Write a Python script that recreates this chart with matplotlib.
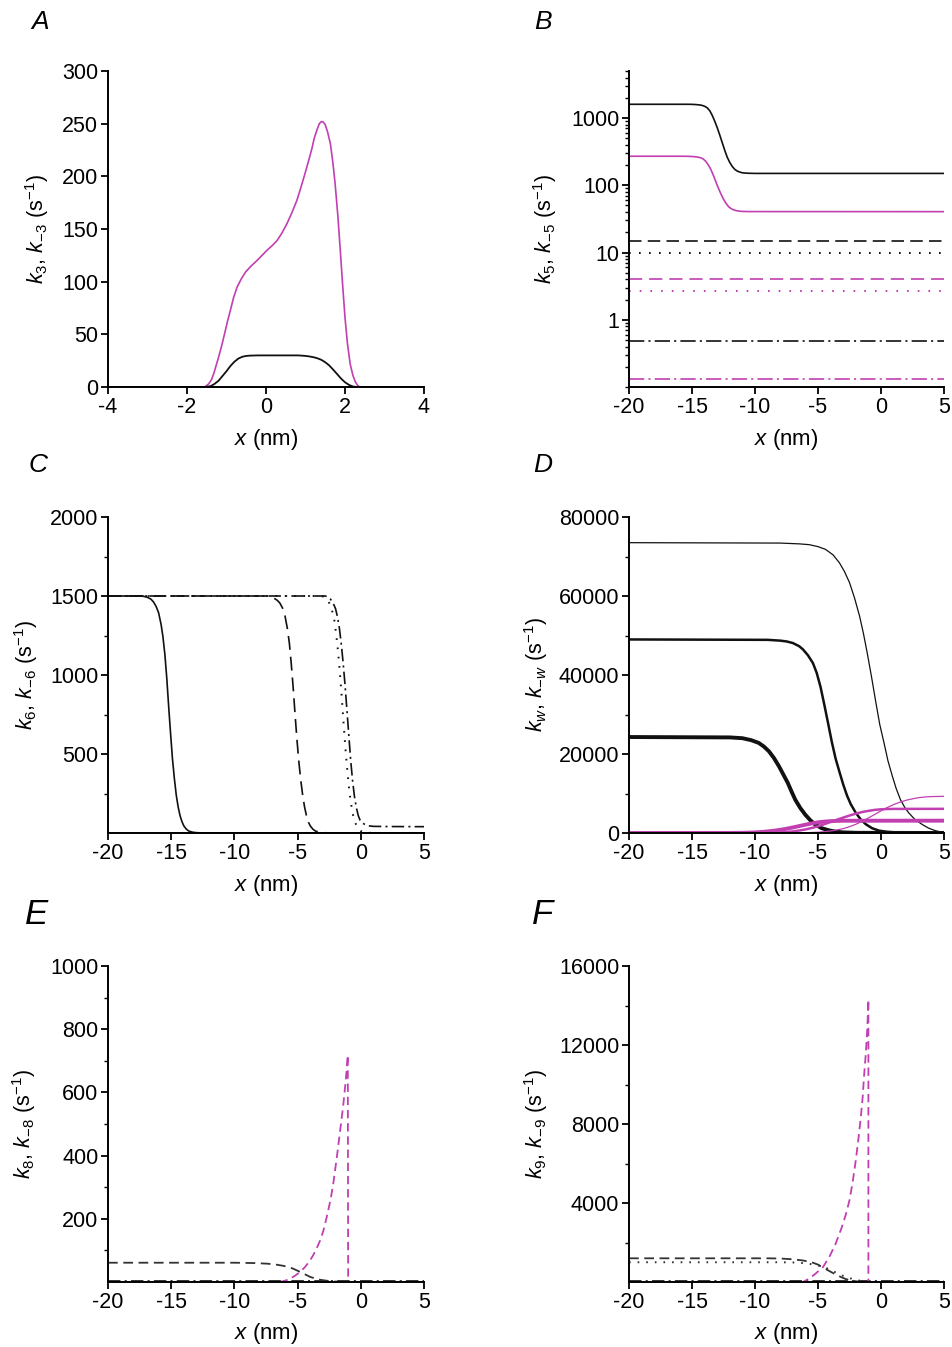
import numpy as np
import matplotlib.pyplot as plt
from matplotlib.ticker import FixedLocator, NullFormatter, LogLocator

plt.rcParams["font.family"] = ["Liberation Sans", "DejaVu Sans"]
plt.rcParams["mathtext.fontset"] = "custom"
plt.rcParams["mathtext.rm"] = "Liberation Sans"
plt.rcParams["mathtext.it"] = "Liberation Sans:italic"
plt.rcParams["axes.unicode_minus"] = False
plt.rcParams["lines.scale_dashes"] = False
plt.rcParams["lines.solid_joinstyle"] = "round"

MAG = "#c13fb1"
BLK = "#111111"

# ---- panel A: k3 (magenta), k-3 (black)
a_mag_x = [-4, -1.55, -1.45, -1.38, -1.32, -1.25, -1.18, -1.11, -1.04, -0.97, -0.90, -0.82,
           -0.73, -0.62, -0.52, -0.40, -0.23, -0.10, 0.03, 0.15, 0.28, 0.40, 0.53, 0.65,
           0.78, 0.88, 0.99, 1.08, 1.16, 1.22, 1.29, 1.35, 1.40, 1.45, 1.50, 1.56, 1.63,
           1.69, 1.75, 1.82, 1.88, 1.94, 2.00, 2.06, 2.13, 2.20, 2.26, 2.32, 2.38, 4]
a_mag_y = [0, 0, 3, 7, 13, 22, 31, 41, 52, 63, 73, 85,
           95, 103, 109, 114, 120, 125, 130, 134, 139, 146, 155, 165,
           177, 189, 203, 215, 226, 236, 244, 250, 252, 251.5, 249, 242, 231,
           214, 193, 162, 130, 97, 66, 42, 22, 11, 5, 1.5, 0, 0]
a_blk_x = [-4, -1.6, -1.5, -1.4, -1.3, -1.2, -1.1, -1.0, -0.9, -0.8, -0.7, -0.6, -0.5, -0.4,
           -0.2, 0.8, 0.9, 1.0, 1.1, 1.2, 1.3, 1.4, 1.5, 1.6, 1.7, 1.8, 1.9, 2.0, 2.1, 2.2, 2.3, 4]
a_blk_y = [0, 0, 0.2, 0.8, 3, 6, 10.5, 15, 20, 24, 27, 28.7, 29.5, 29.8,
           30, 30, 29.8, 29.5, 29, 28.3, 27.3, 25.8, 23.5, 20.5, 16.5, 12.3, 8, 4.5, 2, 0.5, 0, 0]

# ---- panel B: k5, k-5 (log scale)
b_blk_x = [-20, -15.4, -15.0, -14.7, -14.4, -14.2, -14.0, -13.8, -13.6, -13.4, -13.2, -13.0,
           -12.8, -12.6, -12.4, -12.2, -12.0, -11.8, -11.6, -11.4, -11.2, -11.0, -10.6, -10.0, 5]
b_blk_y = [1600, 1600, 1596, 1585, 1565, 1540, 1495, 1420, 1290, 1100, 900, 720,
           560, 430, 330, 260, 218, 190, 172, 162, 157, 153, 151, 150, 150]
b_mag_x = [-20, -15.6, -15.2, -14.9, -14.6, -14.3, -14.1, -13.9, -13.7, -13.5, -13.3, -13.1,
           -12.9, -12.7, -12.5, -12.3, -12.1, -11.9, -11.7, -11.5, -11.2, -10.5, 5]
b_mag_y = [270, 270, 269, 267, 263, 256, 245, 226, 200, 171, 140, 112,
           90, 74, 62, 54, 48, 45, 43, 42, 41, 40.6, 40.5]
b_const_x = [-20, 5]
b_blk_dash = 15
b_blk_dot = 10
b_mag_dash = 4.1
b_mag_dot = 2.7
b_blk_dashdot = 0.49
b_mag_dashdot = 0.13

# ---- panel C: k6, k-6
c_solid_x = [-20, -17.5, -17.2, -16.9, -16.6, -16.4, -16.2, -16.0, -15.8, -15.65, -15.5, -15.35,
             -15.2, -15.05, -14.9, -14.75, -14.6, -14.45, -14.3, -14.15, -14.0, -13.8, -13.6,
             -13.3, -13.0, -12.5, -12, 5]
c_solid_y = [1500, 1500, 1498, 1492, 1480, 1462, 1435, 1395, 1320, 1240, 1130, 980,
             800, 630, 470, 345, 240, 165, 110, 72, 45, 24, 12,
             5, 2, 0.5, 0, 0]
c_dash_x = [-20, -7.5, -7.2, -6.9, -6.6, -6.4, -6.2, -6.0, -5.8, -5.65, -5.5, -5.35,
            -5.2, -5.05, -4.9, -4.75, -4.6, -4.45, -4.3, -4.15, -4.0, -3.8, -3.6,
            -3.3, -3.0, -2.5, -2, 5]
c_dash_y = [1500, 1500, 1497, 1488, 1472, 1455, 1425, 1375, 1290, 1200, 1070, 920,
            750, 590, 450, 335, 240, 165, 110, 70, 45, 25, 13,
            5, 2, 0.5, 0, 0]
c_dot_x = [-20, -3.2, -3.0, -2.8, -2.6, -2.4, -2.25, -2.1, -1.95, -1.8, -1.65, -1.5, -1.35,
           -1.2, -1.05, -0.9, -0.75, -0.6, -0.45, -0.3, -0.15, 0, 0.25, 0.5, 1, 5]
c_dot_y = [1500, 1500, 1497, 1490, 1472, 1440, 1400, 1350, 1260, 1150, 1010, 850, 680,
           520, 380, 260, 175, 110, 68, 40, 22, 12, 5, 2, 0, 0]
c_dd_x = [-20, -2.8, -2.6, -2.4, -2.2, -2.0, -1.85, -1.7, -1.55, -1.4, -1.25, -1.1, -0.95,
          -0.8, -0.65, -0.5, -0.35, -0.2, -0.05, 0.1, 0.3, 0.5, 0.75, 1.0, 2, 5]
c_dd_y = [1500, 1500, 1494, 1480, 1457, 1420, 1370, 1300, 1200, 1080, 940, 780, 620,
          460, 330, 230, 160, 110, 80, 65, 55, 48, 44, 42, 41, 40]
c_mag_x = [-20, 5]
c_mag_y = [3, 3]

# ---- panel D: kw, k-w
d_thin_x = [-20, -8, -6.5, -5.7, -5.0, -4.4, -3.8, -3.3, -2.9, -2.5, -2.1, -1.7, -1.4, -1.1,
            -0.75, -0.4, -0.1, 0.24, 0.55, 0.9, 1.2, 1.55, 1.9, 2.2, 2.7, 3.3, 3.8, 4.3, 4.7, 5]
d_thin_y = [73500, 73400, 73200, 73000, 72500, 71800, 70400, 68400, 66200, 63400, 59500, 54900,
            50600, 45700, 39500, 32900, 27500, 22800, 18300, 14400, 11300, 8400, 6400, 5100,
            3400, 2100, 1200, 600, 300, 170]
d_med_x = [-20, -9, -8, -7.5, -7.0, -6.5, -6.2, -5.8, -5.4, -5.1, -4.8, -4.5, -4.2, -3.9,
           -3.6, -3.3, -3.0, -2.7, -2.4, -2.0, -1.6, -1.2, -0.7, -0.16, 0.5, 1.2, 2.5, 5]
d_med_y = [49000, 48900, 48700, 48500, 48100, 47300, 46500, 45000, 43000, 40500, 37000, 32500,
           27800, 23000, 18800, 15500, 12300, 9500, 7300, 5100, 3400, 2200, 1200, 600, 300,
           150, 50, 0]
d_thick_x = [-20, -12, -11, -10.3, -9.7, -9.3, -8.9, -8.5, -8.1, -7.75, -7.4, -7.1, -6.8,
             -6.4, -6.0, -5.6, -5.2, -4.7, -4.1, -3.6, -3.1, -2, 5]
d_thick_y = [24300, 24200, 24000, 23500, 22800, 21900, 20700, 19000, 16900, 14800, 12700,
             10500, 8400, 6300, 4600, 3200, 2100, 1200, 650, 350, 170, 50, 0]
d_mthin_x = [-20, -7, -6, -5, -4.5, -4, -3.5, -3, -2.5, -2, -1.5, -1, -0.5, 0, 0.5, 1, 1.5,
             2, 2.5, 3, 3.5, 4, 5]
d_mthin_y = [0, 20, 60, 200, 330, 520, 780, 1100, 1600, 2200, 2950, 3800, 4700, 5600, 6450,
             7200, 7800, 8300, 8650, 8950, 9120, 9220, 9280]
d_mmed_x = [-20, -10, -9, -8, -7.5, -7, -6.5, -6, -5.5, -5, -4.5, -4, -3.5, -3, -2.5, -2,
            -1.5, -1, -0.5, 0, 0.5, 1, 5]
d_mmed_y = [0, 20, 60, 150, 250, 400, 620, 900, 1270, 1700, 2230, 2800, 3350, 3900, 4420,
            4900, 5300, 5600, 5850, 6000, 6070, 6100, 6120]
d_mthick_x = [-20, -12, -11, -10.5, -10, -9.5, -9, -8.5, -8, -7.5, -7, -6.5, -6, -5.5, -5,
              -4.5, -4, -3.5, -3, 5]
d_mthick_y = [0, 20, 50, 90, 150, 250, 400, 580, 800, 1080, 1400, 1750, 2100, 2430, 2700,
              2880, 3000, 3070, 3100, 3120]

# ---- panel E: k8, k-8
e_blk_x = [-20, -10, -8.5, -7.4, -6.7, -6.1, -5.4, -4.8, -4.4, -4.0, -3.6, -3.2, -2.7, -2.2, -1.5, 5]
e_blk_y = [61, 61, 60, 58, 55, 51, 43, 32, 24, 16, 11, 7, 4, 2, 0, 0]
e_mag_x = [-20, -6.4, -6.0, -5.6, -5.2, -4.8, -4.4, -4.0, -3.75, -3.5, -3.2, -2.95, -2.7, -2.4,
           -2.2, -2.0, -1.8, -1.6, -1.4, -1.24, -1.12, -1.03, -1.0, 5]
e_mag_y = [0, 0, 4, 10, 20, 32, 48, 69, 86, 106, 133, 164, 205, 259,
           305, 364, 425, 491, 555, 618, 670, 718, 0, 0]
e_base_x = [-20, 5]
e_base_y = [2, 2]

# ---- panel F: k9, k-9
f_blk_x = [-20, -9, -8, -7, -6.2, -5.5, -5.0, -4.5, -4.0, -3.5, -3.1, -2.8, -2.4, -2.0, -1.5, 5]
f_blk_y = [1200, 1200, 1190, 1150, 1090, 1000, 880, 700, 520, 350, 230, 150, 80, 40, 0, 0]
f_dot_x = [-20, -8, -7, -6, -5.2, -4.5, -4.0, -3.5, -3.0, -2.5, -2.1, -1.8, -1.2, 5]
f_dot_y = [1000, 1000, 990, 950, 870, 750, 620, 450, 310, 200, 120, 80, 10, 0]
f_mag_x = [-20, -6.2, -5.7, -5.2, -4.6, -4.1, -3.6, -3.1, -2.8, -2.5, -2.25, -2.0, -1.8, -1.6,
           -1.45, -1.35, -1.2, -1.08, -1.0, -1.0, 5]
f_mag_y = [0, 0, 170, 420, 760, 1270, 1940, 2790, 3400, 4140, 5050, 6170, 7200, 8360,
           9400, 10390, 11600, 12920, 14300, 0, 0]
f_base_x = [-20, 5]
f_base_y = [30, 30]

W, H = 952, 1347
fig = plt.figure(figsize=(W / 100, H / 100), dpi=100)


def make_ax(l, t, r, b):
    ax = fig.add_axes([l / W, 1 - b / H, (r - l) / W, (b - t) / H])
    for s in ["top", "right"]:
        ax.spines[s].set_visible(False)
    for s in ["left", "bottom"]:
        ax.spines[s].set_linewidth(1.4)
    ax.tick_params(which="major", direction="out", length=5, width=1.3, labelsize=15.5, pad=2)
    ax.tick_params(which="minor", direction="out", length=3, width=1.0)
    ax.set_xlabel(r"$x$ (nm)", fontsize=16)
    ax.xaxis.set_label_coords(0.5, -0.125)
    return ax


LEFT = (108, 424)
RIGHT = (629, 944)
ROWS = [(71, 387), (517, 833), (966, 1282)]
XT = [-20, -15, -10, -5, 0, 5]
YLFS = 15.5

# A
ax = make_ax(LEFT[0], ROWS[0][0], LEFT[1], ROWS[0][1])
ax.plot(a_mag_x, a_mag_y, color=MAG, lw=1.2)
ax.plot(a_blk_x, a_blk_y, color=BLK, lw=1.3)
ax.set_xlim(-4, 4)
ax.set_ylim(0, 300)
ax.set_xticks([-4, -2, 0, 2, 4])
ax.set_yticks(np.arange(0, 301, 50))
ax.set_ylabel(r"$k_3$, $k_{-3}$ (s$^{-1}$)", fontsize=YLFS)
ax.yaxis.set_label_coords(-0.18, 0.5)

# B
ax = make_ax(RIGHT[0], ROWS[0][0], RIGHT[1], ROWS[0][1])
ax.set_yscale("log")
ax.plot(b_blk_x, b_blk_y, color=BLK, lw=1.2)
ax.plot(b_mag_x, b_mag_y, color=MAG, lw=1.2)
ax.plot(b_const_x, [b_blk_dash] * 2, color=BLK, lw=1.2, ls=(0, (9, 4.5)))
ax.plot(b_const_x, [b_blk_dot] * 2, color=BLK, lw=1.4, ls=(0, (1.2, 6)))
ax.plot(b_const_x, [b_mag_dash] * 2, color=MAG, lw=1.2, ls=(0, (9.5, 5)))
ax.plot(b_const_x, [b_mag_dot] * 2, color=MAG, lw=1.4, ls=(0, (1.2, 6.5)))
ax.plot(b_const_x, [b_blk_dashdot] * 2, color=BLK, lw=1.2, ls=(0, (11, 3, 1.5, 3)))
ax.plot(b_const_x, [b_mag_dashdot] * 2, color=MAG, lw=1.2, ls=(0, (11, 3, 1.5, 3)))
ax.set_xlim(-20, 5)
ax.set_ylim(0.1, 5000)
ax.set_xticks(XT)
ax.yaxis.set_major_locator(FixedLocator([1, 10, 100, 1000]))
ax.yaxis.set_minor_locator(LogLocator(base=10, subs=np.arange(1, 10) * 1.0, numticks=20))
ax.yaxis.set_minor_formatter(NullFormatter())
ax.set_yticklabels(["1", "10", "100", "1000"])
ax.set_ylabel(r"$k_5$, $k_{-5}$ (s$^{-1}$)", fontsize=YLFS)
ax.yaxis.set_label_coords(-0.222, 0.5)

# C
ax = make_ax(LEFT[0], ROWS[1][0], LEFT[1], ROWS[1][1])
ax.plot(c_mag_x, c_mag_y, color=MAG, lw=1.3)
ax.plot(c_solid_x, c_solid_y, color=BLK, lw=1.2)
ax.plot(c_dash_x, c_dash_y, color=BLK, lw=1.2, ls=(0, (10, 5)))
ax.plot(c_dot_x, c_dot_y, color=BLK, lw=1.4, ls=(0, (1.2, 5.5)))
ax.plot(c_dd_x, c_dd_y, color=BLK, lw=1.2, ls=(0, (9, 3, 1.5, 3)))
ax.set_xlim(-20, 5)
ax.set_ylim(0, 2000)
ax.set_xticks(XT)
ax.set_yticks([500, 1000, 1500, 2000])
ax.yaxis.set_minor_locator(FixedLocator([250, 750, 1250, 1750]))
ax.set_ylabel(r"$k_6$, $k_{-6}$ (s$^{-1}$)", fontsize=YLFS)
ax.yaxis.set_label_coords(-0.215, 0.5)

# D
ax = make_ax(RIGHT[0], ROWS[1][0], RIGHT[1], ROWS[1][1])
ax.plot(d_thin_x, d_thin_y, color=BLK, lw=0.9)
ax.plot(d_med_x, d_med_y, color=BLK, lw=1.8)
ax.plot(d_thick_x, d_thick_y, color=BLK, lw=2.8)
ax.plot(d_mthin_x, d_mthin_y, color=MAG, lw=0.9)
ax.plot(d_mmed_x, d_mmed_y, color=MAG, lw=1.8)
ax.plot(d_mthick_x, d_mthick_y, color=MAG, lw=2.8)
ax.set_xlim(-20, 5)
ax.set_ylim(0, 80000)
ax.set_xticks(XT)
ax.set_yticks(np.arange(0, 80001, 20000))
ax.yaxis.set_minor_locator(FixedLocator([10000, 30000, 50000, 70000]))
ax.set_ylabel(r"$k_w$, $k_{-w}$ (s$^{-1}$)", fontsize=YLFS)
ax.yaxis.set_label_coords(-0.252, 0.5)

# E
ax = make_ax(LEFT[0], ROWS[2][0], LEFT[1], ROWS[2][1])
ax.plot(e_base_x, e_base_y, color=BLK, lw=1.2, ls=(0, (9, 3, 1.5, 3)))
ax.plot(e_blk_x, e_blk_y, color="#333333", lw=1.3, ls=(0, (7, 4)))
ax.plot(e_mag_x, e_mag_y, color=MAG, lw=1.3, ls=(0, (6, 3.5)))
ax.set_xlim(-20, 5)
ax.set_ylim(0, 1000)
ax.set_xticks(XT)
ax.set_yticks([200, 400, 600, 800, 1000])
ax.yaxis.set_minor_locator(FixedLocator([100, 300, 500, 700, 900]))
ax.set_ylabel(r"$k_8$, $k_{-8}$ (s$^{-1}$)", fontsize=YLFS)
ax.yaxis.set_label_coords(-0.22, 0.5)

# F
ax = make_ax(RIGHT[0], ROWS[2][0], RIGHT[1], ROWS[2][1])
ax.plot(f_base_x, f_base_y, color=BLK, lw=1.2, ls=(0, (9, 3, 1.5, 3)))
ax.plot(f_blk_x, f_blk_y, color="#333333", lw=1.3, ls=(0, (7, 4)))
ax.plot(f_dot_x, f_dot_y, color="#333333", lw=1.4, ls=(0, (1.2, 5)))
ax.plot(f_mag_x, f_mag_y, color=MAG, lw=1.3, ls=(0, (6, 3.5)))
ax.set_xlim(-20, 5)
ax.set_ylim(0, 16000)
ax.set_xticks(XT)
ax.set_yticks([4000, 8000, 12000, 16000])
ax.yaxis.set_minor_locator(FixedLocator([2000, 6000, 10000, 14000]))
ax.set_ylabel(r"$k_9$, $k_{-9}$ (s$^{-1}$)", fontsize=YLFS)
ax.yaxis.set_label_coords(-0.252, 0.5)

# panel letters
letters = [("A", 40, 22, 19), ("B", 543, 22, 19), ("C", 38, 465, 19),
           ("D", 543, 465, 19), ("E", 37, 915, 25), ("F", 543, 915, 25)]
for t, px, py, fs in letters:
    fig.text(px / W, 1 - py / H, t, fontsize=fs, style="italic", ha="center", va="center")

fig.savefig("out.png", dpi=100)
